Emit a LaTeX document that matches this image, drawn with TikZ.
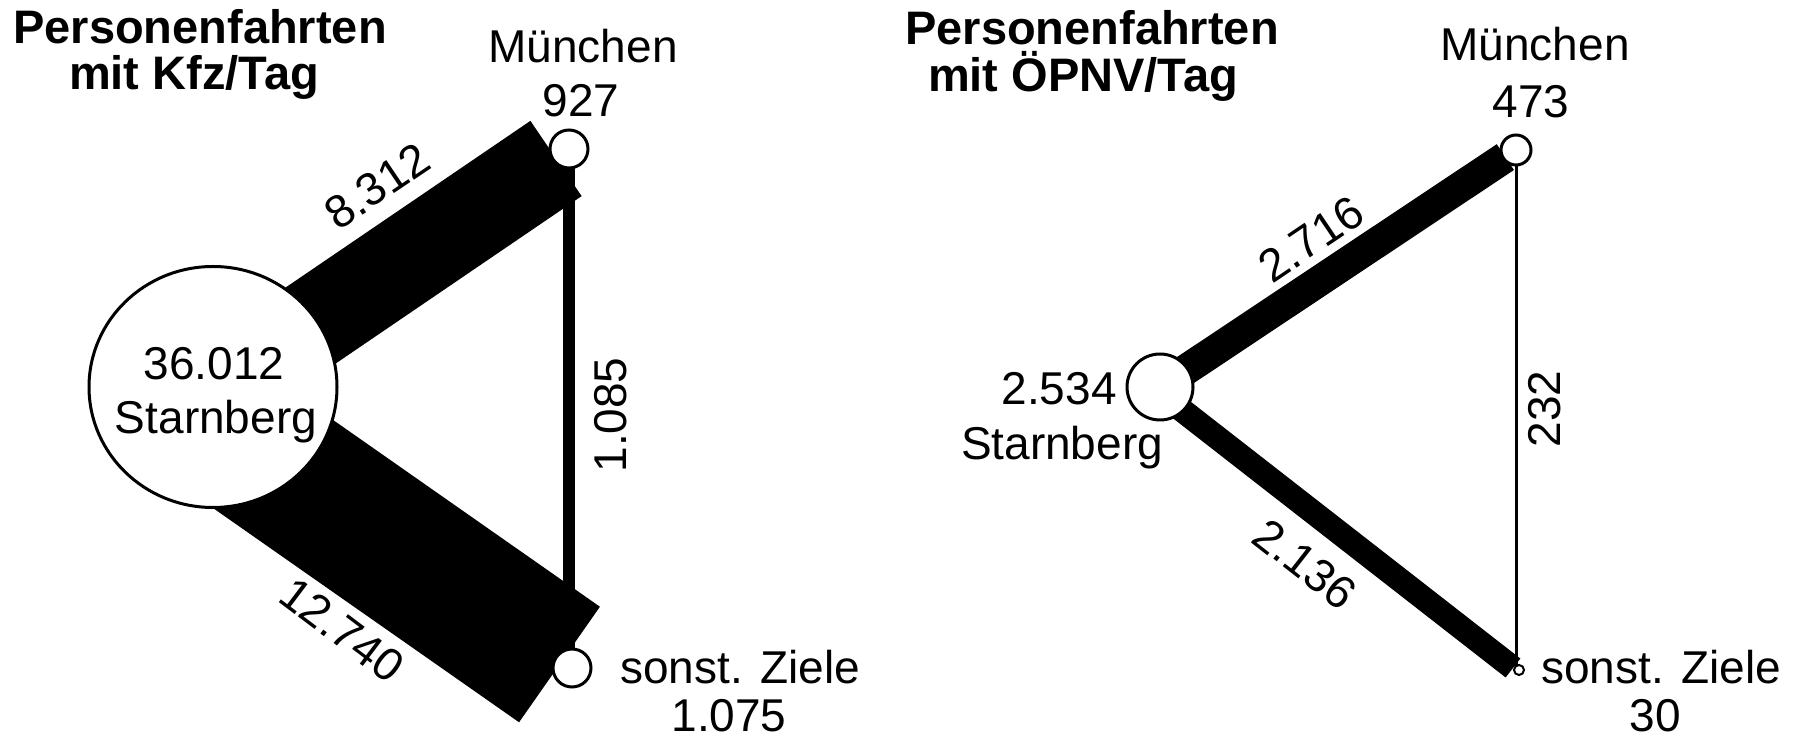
\documentclass[tikz,border=0pt]{standalone}
\usepackage{fontspec}
\setmainfont{Liberation Sans}
\usetikzlibrary{shapes.geometric,calc,backgrounds}
\begin{document}
\begin{tikzpicture}[x=0.5pt,y=-0.5pt,
  lbl/.style={inner sep=0pt, font=\fontsize{23}{27}\selectfont},
  ttl/.style={inner sep=0pt, font=\fontsize{23.5}{28}\selectfont\bfseries},
  city/.style={circle, draw=black, fill=white, line width=1.5pt, inner sep=0pt},
  band/.style={line cap=butt, draw=black},
  link/.style={draw=black}]
\useasboundingbox (0,0) rectangle (1800,742);

% ---- left panel nodes
\node[ellipse, draw=black, fill=white, line width=1.5pt, minimum width=124pt, minimum height=120.5pt, inner sep=0pt] (S1) at (213,387) {};
\node[city, minimum size=19pt] (M1) at (569,149) {};
\node[city, minimum size=19pt] (Z1) at (572,668) {};
\node[lbl, anchor=base] (S1a) at (214,380) {36.012};
\node[lbl, anchor=base] (S1b) at (216,434) {Starnberg};

% ---- right panel nodes
\node[city, minimum size=33pt] (S2) at (1160,387) {};
\node[city, minimum size=15pt] (M2) at (1516,150) {};
\node[city, minimum size=5pt, line width=1pt] (Z2) at (1519,670) {};

% ---- bands and links (behind nodes)
\begin{pgfonlayer}{background}
\fill[white] (0,0) rectangle (1800,742);
\draw[band, line width=45.5pt] ($(S1)+(0,5)$) -- ($(M1)+(-13,9.5)$);
\draw[band, line width=70.5pt] ($(S1)+(0,35)$) -- ($(Z1)+(-12.5,-3.5)$);
\draw[link, line width=6pt] (M1.center) -- (M1.center |- Z1.center);
\draw[band, line width=15.5pt] (S2.center) -- ($(S2)!0.97!(M2)$);
\draw[band, line width=12pt] ($(S2)+(0,6)$) -- ($(Z2)+(-6,-2)$);
\draw[link, line width=1.5pt] (M2.center) -- (M2.center |- Z2.center);
\end{pgfonlayer}

% ---- titles
\node[ttl, anchor=base] (T1a) at (200,44) {Personenfahrten};
\node[ttl, anchor=base] (T1b) at (194,90) {mit Kfz/Tag};
\node[ttl, anchor=base] (T2a) at (1092,45) {Personenfahrten};
\node[ttl, anchor=base] (T2b) at (1083,92) {mit ÖPNV/Tag};

% ---- left labels
\node[lbl, anchor=base] (M1n) at (583,63) {München};
\node[lbl, anchor=base] (M1v) at (581,117) {927};
\node[lbl, anchor=base west] (Z1n) at (620,684) {sonst. Ziele};
\node[lbl, anchor=base] (Z1v) at (729,732) {1.075};
\node[lbl, rotate=34] (L1) at (377,186) {8.312};
\node[lbl, rotate=-37] (L2) at (342,630) {12.740};
\node[lbl, rotate=90] (L3) at (611,415) {1.085};

% ---- right labels
\node[lbl, anchor=base] (M2n) at (1535,61) {München};
\node[lbl, anchor=base] (M2v) at (1531,118) {473};
\node[lbl, anchor=base east] (S2v) at (1117,405) {2.534};
\node[lbl, anchor=base] (S2n) at (1062,460) {Starnberg};
\node[lbl, anchor=base west] (Z2n) at (1541,684) {sonst. Ziele};
\node[lbl, anchor=base] (Z2v) at (1655,732) {30};
\node[lbl, rotate=34] (R1) at (1311,239) {2.716};
\node[lbl, rotate=-38] (R2) at (1305,564) {2.136};
\node[lbl, rotate=90] (R3) at (1545,409) {232};
\end{tikzpicture}
\end{document}
